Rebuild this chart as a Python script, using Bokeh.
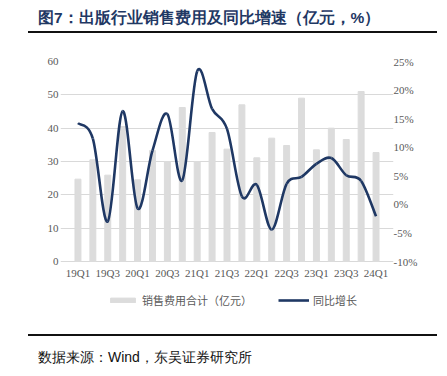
import numpy as np
from bokeh.plotting import figure
from bokeh.layouts import column
from bokeh.models import (Range1d, LinearAxis, FixedTicker, PrintfTickFormatter,
                          Legend, LegendItem, ColumnDataSource, Div)
from bokeh.embed import file_html
from bokeh.resources import INLINE

quarters = ["19Q1", "19Q2", "19Q3", "19Q4", "20Q1", "20Q2", "20Q3", "20Q4",
            "21Q1", "21Q2", "21Q3", "21Q4", "22Q1", "22Q2", "22Q3", "22Q4",
            "23Q1", "23Q2", "23Q3", "23Q4", "24Q1"]
sales_expense = [24.7, 30.5, 25.9, 40.5, 24.5, 33.3, 30.0, 46.2, 30.0, 38.7, 33.7,
                 47.0, 31.1, 37.0, 34.8, 49.0, 33.5, 40.0, 36.6, 51.0, 32.7]
yoy_growth = [14.2, 11.5, -3.0, 16.3, -0.7, 9.4, 15.8, 4.2, 23.3, 16.7, 13.2,
              1.4, 3.4, -4.4, 3.6, 4.8, 7.1, 8.1, 5.1, 4.1, -2.1]
left_ticks = [0, 10, 20, 30, 40, 50, 60]
right_ticks = [-10, -5, 0, 5, 10, 15, 20, 25]
title_text = "图7：出版行业销售费用及同比增速（亿元，%）"
source_text = "数据来源：Wind，东吴证券研究所"
legend_bar = "销售费用合计（亿元）"
legend_line = "同比增长"

GREY_TXT = "#595959"
BAR_C = "#dcdcdc"
LINE_C = "#1f3864"
SERIF = "Liberation Serif"
CJK = "Noto Sans CJK SC"
W = 447


def rule(y):
    return (f"<line x1='28' y1='{y}' x2='437' y2='{y}' "
            f"style='stroke:#111111;stroke-width:2px;fill:none'/>"
            f"<rect x='28' y='{y - 1}' width='409' height='2' "
            f"style='fill:#111111;stroke:none'/>")


# ---------- header ----------
hdr = Div(width=W, height=44, margin=0, text=(
    f"<svg xmlns='http://www.w3.org/2000/svg' width='{W}' height='44' style='display:block'>"
    f"<text x='38' y='17' dominant-baseline='central' font-family='{CJK}' "
    f"font-weight='bold' font-size='15.5px' fill='{LINE_C}'>{title_text}</text>"
    f"{rule(32)}</svg>"))

# ---------- main chart ----------
n = len(quarters)
xs = np.arange(n)
pad = 10 / (313 / n)  # 10 px of extra frame on each side, in category units
p = figure(width=W, height=286, frame_width=333, frame_height=251,
           x_range=Range1d(-0.5 - pad, n - 0.5 + pad), y_range=Range1d(-15.3, 60),
           output_backend="svg", toolbar_location=None,
           min_border_left=60, min_border_right=54, min_border_top=17, min_border_bottom=18)
p.outline_line_color = None
p.xgrid.visible = False
p.ygrid.grid_line_color = "#d9d9d9"
p.ygrid.ticker = FixedTicker(ticks=left_ticks)
p.extra_y_ranges = {"pct": Range1d(-18.925, 25)}

bars = p.vbar(x=xs, top=sales_expense, width=0.4, color=BAR_C)

# smooth line drawn as Bezier segments through the data points
y = np.array(yoy_growth, dtype=float)
x = xs.astype(float)
x0, y0, x1, y1, cx0, cy0, cx1, cy1 = [], [], [], [], [], [], [], []
for i in range(n - 1):
    pm = i - 1 if i > 0 else i
    pp = i + 2 if i + 2 < n else i + 1
    x0.append(x[i]); y0.append(y[i]); x1.append(x[i + 1]); y1.append(y[i + 1])
    cx0.append(x[i] + (x[i + 1] - x[pm]) / 6); cy0.append(y[i] + (y[i + 1] - y[pm]) / 6)
    cx1.append(x[i + 1] - (x[pp] - x[i]) / 6); cy1.append(y[i + 1] - (y[pp] - y[i]) / 6)
src = ColumnDataSource(dict(x0=x0, y0=y0, x1=x1, y1=y1, cx0=cx0, cy0=cy0, cx1=cx1, cy1=cy1))
curve = p.bezier(x0="x0", y0="y0", x1="x1", y1="y1", cx0="cx0", cy0="cy0",
                 cx1="cx1", cy1="cy1", source=src, y_range_name="pct",
                 line_color=LINE_C, line_width=2.6)

la = p.yaxis[0]
la.ticker = FixedTicker(ticks=left_ticks)
ra = LinearAxis(y_range_name="pct", ticker=FixedTicker(ticks=right_ticks),
                formatter=PrintfTickFormatter(format="%d%%"))
p.add_layout(ra, "right")
xa = p.xaxis[0]
xa.ticker = FixedTicker(ticks=list(range(0, n, 2)))
xa.major_label_overrides = {i: quarters[i] for i in range(n)}
xa.fixed_location = 0
for ax in (la, ra, xa):
    ax.axis_line_color = None
    ax.major_tick_line_color = None
    ax.minor_tick_line_color = None
    ax.major_tick_out = 0
    ax.major_tick_in = 0
    ax.major_label_text_color = GREY_TXT
    ax.major_label_text_font = SERIF
    ax.major_label_text_font_size = "11px"
la.major_label_standoff = 2
ra.major_label_standoff = 0
xa.major_label_standoff = 5

legend = Legend(items=[LegendItem(label=legend_bar, renderers=[bars]),
                       LegendItem(label=legend_line, renderers=[curve])],
                orientation="horizontal", location=(47, 4),
                border_line_color=None, background_fill_alpha=0,
                glyph_width=31, glyph_height=6, label_standoff=4, spacing=26,
                label_text_font=CJK, label_text_font_size="11px",
                label_text_color=GREY_TXT, margin=0, padding=5, label_height=12)
p.add_layout(legend)

# ---------- footer ----------
ftr = Div(width=W, height=46, margin=0, text=(
    f"<svg xmlns='http://www.w3.org/2000/svg' width='{W}' height='46' style='display:block'>"
    f"{rule(5)}"
    f"<text x='38' y='27' dominant-baseline='central' font-family=\"'{SERIF}', '{CJK}'\" "
    f"font-size='14px' fill='#111111'>{source_text}</text></svg>"))

layout = column(hdr, p, ftr, spacing=0)
open("out.html", "w").write(file_html(layout, INLINE))
